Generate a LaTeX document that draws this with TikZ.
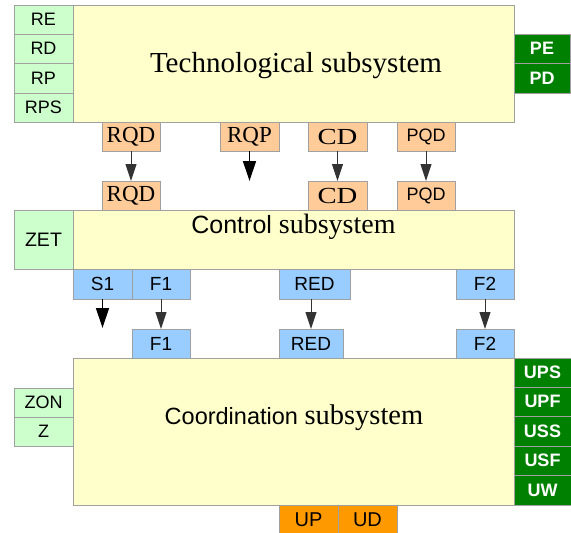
\documentclass[tikz,border=0pt]{standalone}
\usepackage{fontspec}
\setmainfont{Liberation Serif}
\setsansfont{Liberation Sans}
\usetikzlibrary{arrows.meta}
\definecolor{lgreen}{HTML}{CCFFCC}
\definecolor{lyellow}{HTML}{FFFFCC}
\definecolor{peach}{HTML}{FFCC99}
\definecolor{lblue}{HTML}{99CCFF}
\definecolor{dgreen}{HTML}{008000}
\definecolor{dorange}{HTML}{FF9900}
\definecolor{bordergray}{HTML}{A0A0A0}
\definecolor{arrowgray}{HTML}{333333}
\newcommand{\pxbox}[7]{\node[#1,minimum width={(#4)-(#2)},minimum height={(#5)-(#3)}] (#6) at ({((#2)+(#4))/2},{((#3)+(#5))/2}) {#7};}
\tikzset{
  box/.style={draw=bordergray, line width=0.9pt, inner sep=0pt, outer sep=0pt, rectangle},
  mainbox/.style={box, fill=lyellow},
  inbox/.style={box, fill=lgreen, font=\sffamily\fontsize{18}{18}\selectfont},
  outbox/.style={box, fill=dgreen, text=white, font=\sffamily\bfseries\fontsize{18}{18}\selectfont},
  peachbox/.style={box, fill=peach, font=\fontsize{23}{23}\selectfont},
  peachsans/.style={box, fill=peach, font=\sffamily\fontsize{18}{18}\selectfont},
  bluebox/.style={box, fill=lblue, font=\sffamily\fontsize{19}{19}\selectfont},
  orangebox/.style={box, fill=dorange, font=\sffamily\fontsize{20}{20}\selectfont},
  garrow/.style={draw=arrowgray, line width=1pt, -{Triangle[length=17pt,width=11pt]}, arrowgray},
  barrow/.style={draw=black, line width=1.3pt, -{Triangle[length=20pt,width=13pt]}},
  title/.style={inner sep=0pt, anchor=base}
}
\begin{document}
\begin{tikzpicture}[x=1pt,y=-1pt]
\useasboundingbox[fill=white] (0,0) rectangle (571,533);
% Technological subsystem
\pxbox{mainbox}{73}{5}{514}{122}{tech}{}
\node[title, font=\fontsize{29}{29}\selectfont] (techlabel) at (296,72) {Technological subsystem};
\pxbox{inbox}{14}{5}{73}{34}{RE}{RE}
\pxbox{inbox}{14}{34}{73}{63}{RD}{RD}
\pxbox{inbox}{14}{63}{73}{93}{RP}{RP}
\pxbox{inbox}{14}{93}{73}{122}{RPS}{RPS}
\pxbox{outbox}{514}{34}{570}{63}{PE}{PE}
\pxbox{outbox}{514}{63}{570}{93}{PD}{PD}
% outputs of technological subsystem
\pxbox{peachbox}{102}{122}{160}{151}{RQDa}{RQD}
\pxbox{peachbox}{220}{122}{279}{151}{RQP}{RQP}
\pxbox{peachbox}{308}{122}{367}{151}{CDa}{\scalebox{1.25}[1]{CD}}
\pxbox{peachsans}{397}{122}{455}{151}{PQDa}{PQD}
% inputs of control subsystem
\pxbox{peachbox}{102}{181}{160}{210}{RQDb}{RQD}
\pxbox{peachbox}{308}{181}{367}{210}{CDb}{\scalebox{1.25}[1]{CD}}
\pxbox{peachsans}{397}{181}{455}{210}{PQDb}{PQD}
\coordinate (rqpend) at (249.5,181);
% Control subsystem
\pxbox{mainbox}{73}{210}{514}{269}{control}{}
\node[title] (controllabel) at (293.5,233) {\fontsize{25}{25}\selectfont\sffamily Control \fontsize{28}{28}\selectfont\rmfamily subsystem};
\pxbox{inbox}{14}{210}{73}{269}{ZET}{\fontsize{19.5}{19.5}\selectfont ZET}
\pxbox{bluebox}{73}{269}{132}{299}{S1}{S1}
\pxbox{bluebox}{132}{269}{190}{299}{F1a}{F1}
\pxbox{bluebox}{279}{269}{350}{299}{REDa}{RED}
\pxbox{bluebox}{456}{269}{514}{299}{F2a}{F2}
% inputs of coordination subsystem
\pxbox{bluebox}{132}{329}{190}{358}{F1b}{F1}
\pxbox{bluebox}{279}{329}{343}{358}{REDb}{RED}
\pxbox{bluebox}{456}{329}{514}{358}{F2b}{F2}
\coordinate (s1end) at (102.5,328);
% Coordination subsystem
\pxbox{mainbox}{73}{358}{514}{505}{coord}{}
\node[title] (coordlabel) at (294,424) {\fontsize{23.5}{23.5}\selectfont\sffamily Coordination \fontsize{28.5}{28.5}\selectfont\rmfamily subsystem};
\pxbox{inbox}{14}{388}{73}{417}{ZON}{ZON}
\pxbox{inbox}{14}{417}{73}{446}{Z}{Z}
\pxbox{outbox}{514}{358}{571}{387}{UPS}{UPS}
\pxbox{outbox}{514}{387}{571}{416}{UPF}{UPF}
\pxbox{outbox}{514}{416}{571}{446}{USS}{USS}
\pxbox{outbox}{514}{446}{571}{475}{USF}{USF}
\pxbox{outbox}{514}{475}{571}{505}{UW}{UW}
\pxbox{orangebox}{279}{505}{338}{534}{UP}{UP}
\pxbox{orangebox}{338}{505}{397}{534}{UD}{UD}
% connectors
\draw[garrow] (RQDa) -- (RQDb);
\draw[barrow] (RQP) -- (rqpend);
\draw[garrow] (CDa) -- (CDb);
\draw[garrow] (PQDa) -- (PQDb);
\draw[barrow] (S1) -- (s1end);
\draw[garrow] (F1a) -- (F1b);
\draw[garrow] (REDa.south -| REDb.north) -- (REDb.north);
\draw[garrow] (F2a) -- (F2b);
\end{tikzpicture}
\end{document}
